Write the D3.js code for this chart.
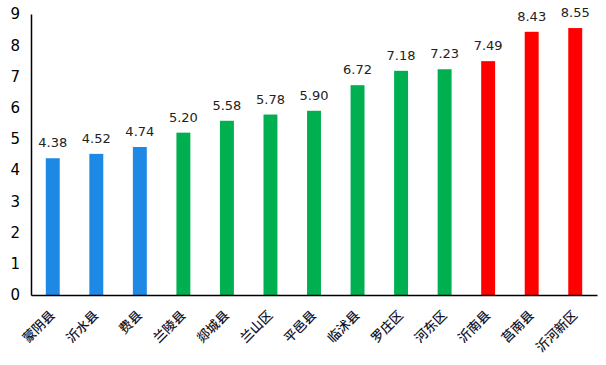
<!DOCTYPE html>
<html><head><meta charset="utf-8">
<script src="https://cdn.jsdelivr.net/npm/d3@7"></script>
<style>body{margin:0;background:#fff}</style>
</head><body>
<svg id="c" width="606" height="365"></svg>
<script>
const categories = ["蒙阴县","沂水县","费县","兰陵县","郯城县","兰山区","平邑县","临沭县","罗庄区","河东区","沂南县","莒南县","沂河新区"];
const values = [4.38,4.52,4.74,5.20,5.58,5.78,5.90,6.72,7.18,7.23,7.49,8.43,8.55];
const groups = ["blue","blue","blue","green","green","green","green","green","green","green","red","red","red"];
const yTicks = [0,1,2,3,4,5,6,7,8,9];
const colorMap = {blue:"#1E88E5", green:"#00B050", red:"#FF0000"};

(function(){
const svg = d3.select("#c");
const mLeft = 31, mRight = 597, mTop = 14, mBottom = 295;
const x = d3.scaleBand().domain(categories).range([mLeft,mRight]).paddingInner(0.68).paddingOuter(0.34);
const y = d3.scaleLinear().domain([0,9]).range([mBottom,mTop]);

svg.selectAll("rect.bar").data(values).join("rect")
  .attr("x",(d,i)=>x(categories[i])).attr("width",x.bandwidth())
  .attr("y",d=>y(d)).attr("height",d=>mBottom-y(d))
  .attr("fill",(d,i)=>colorMap[groups[i]]);

svg.selectAll("text.val").data(values).join("text")
  .attr("x",(d,i)=>x(categories[i])+x.bandwidth()/2)
  .attr("y",d=>y(d)-11)
  .attr("text-anchor","middle")
  .attr("font-family","DejaVu Sans").attr("font-size",13).attr("fill","#222")
  .text(d=>d.toFixed(2));

const ya = svg.append("g").attr("transform",`translate(${mLeft},0)`)
  .call(d3.axisLeft(y).tickValues(yTicks).tickSize(0).tickPadding(11));
ya.select(".domain").attr("stroke","#000").attr("stroke-width",1.5);
ya.selectAll("text").attr("font-family","DejaVu Sans").attr("font-size",15).attr("fill","#000");

const xa = svg.append("g").attr("transform",`translate(0,${mBottom})`)
  .call(d3.axisBottom(x).tickSize(0).tickPadding(0));
xa.select(".domain").attr("stroke","#000").attr("stroke-width",1.5);
xa.selectAll("text")
  .attr("font-family","Noto Sans CJK SC").attr("font-size",13).attr("font-weight","500").attr("fill","#14142a")
  .attr("text-anchor","end").attr("dy",0).attr("y",0)
  .attr("transform","translate(3,21) rotate(-45)");
})();
</script>
</body></html>
